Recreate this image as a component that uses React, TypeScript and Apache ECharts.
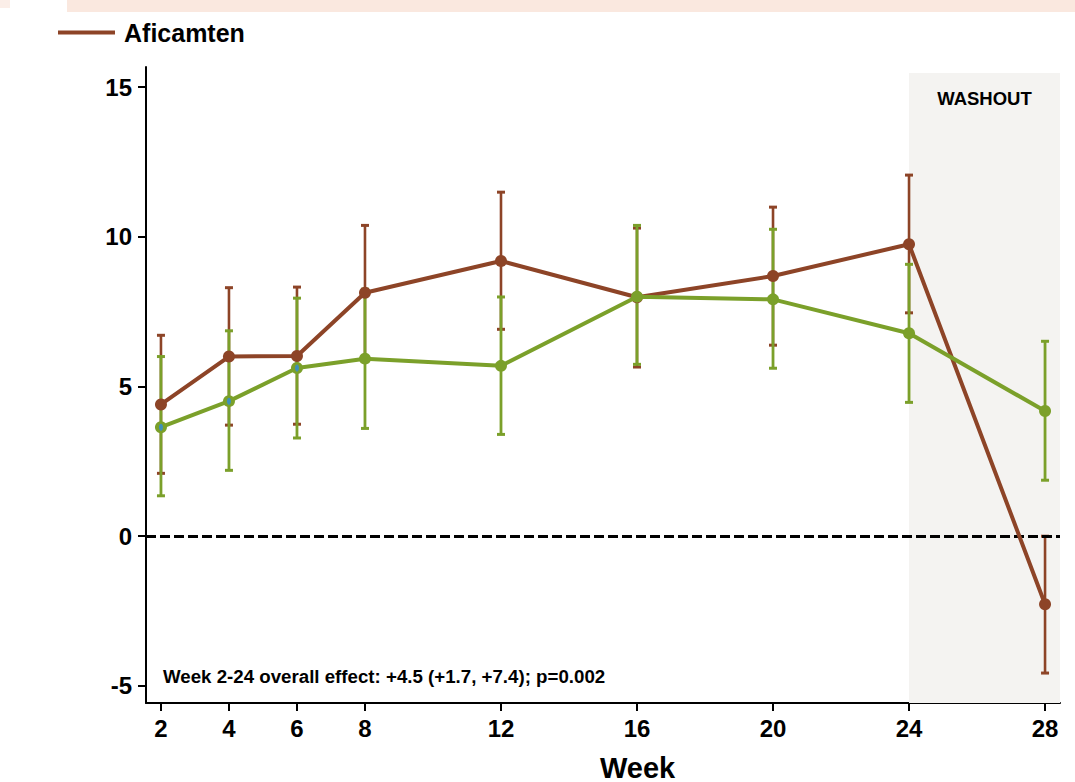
import React, { useEffect, useRef } from "react";
import * as echarts from "echarts";

const weeks = [2, 4, 6, 8, 12, 16, 20, 24, 28];
const xTickLabels = [2, 4, 6, 8, 12, 16, 20, 24, 28];
const yTickLabels = [-5, 0, 5, 10, 15];

const afiMean = [4.4, 6.0, 6.02, 8.13, 9.19, 7.98, 8.69, 9.75, -2.27];
const afiLow = [2.1, 3.71, 3.74, 5.9, 6.91, 5.65, 6.38, 7.46, -4.57];
const afiHigh = [6.71, 8.3, 8.32, 10.38, 11.49, 10.29, 10.99, 12.06, 0.0];

const cmpMean = [3.64, 4.51, 5.62, 5.93, 5.69, 8.0, 7.91, 6.78, 4.18];
const cmpLow = [1.35, 2.2, 3.28, 3.6, 3.4, 5.74, 5.61, 4.47, 1.87];
const cmpHigh = [6.0, 6.86, 7.95, 8.25, 7.99, 10.38, 10.25, 9.08, 6.51];

const blueDotWeeks = [2, 4, 6];

const BROWN = "#8D4427";
const GREEN = "#7BA02A";
const FONT = "Liberation Sans, Arial, sans-serif";

function errorBar(color: string, barW: number) {
  return (params: any, api: any) => {
    const x = api.value(0);
    const lo = api.value(1);
    const hi = api.value(2);
    const top = api.coord([x, hi]);
    const bot = api.coord([x, lo]);
    const hw = 4;
    return {
      type: "group",
      children: [
        { type: "line", shape: { x1: top[0], y1: top[1], x2: bot[0], y2: bot[1] }, style: { stroke: color, lineWidth: barW } },
        { type: "line", shape: { x1: top[0] - hw, y1: top[1], x2: top[0] + hw, y2: top[1] }, style: { stroke: color, lineWidth: 3 } },
        { type: "line", shape: { x1: bot[0] - hw, y1: bot[1], x2: bot[0] + hw, y2: bot[1] }, style: { stroke: color, lineWidth: 3 } },
      ],
    };
  };
}

export default function App() {
  const ref = useRef<HTMLDivElement>(null);
  useEffect(() => {
    if (!ref.current) return;
    const chart = echarts.init(ref.current, null, { renderer: "svg" });
    const xMin = 1.56;
    const xMax = 28.44;
    const yMin = -5.57;
    const yMax = 15.67;
    chart.setOption({
      animation: false,
      backgroundColor: "#ffffff",
      textStyle: { fontFamily: FONT },
      graphic: [
        { type: "rect", shape: { x: 67, y: 0, width: 1008, height: 12 }, style: { fill: "#FAE8DF" }, z: 0 },
        { type: "rect", shape: { x: 0, y: 0, width: 10, height: 8 }, style: { fill: "#FBEEE8" }, z: 0 },
        {
          type: "text",
          left: 163,
          top: 667,
          style: { text: "Week 2-24 overall effect: +4.5 (+1.7, +7.4); p=0.002", font: `bold 18.7px ${FONT}`, fill: "#000" },
          z: 10,
        },
        {
          type: "text",
          left: 600,
          top: 753,
          style: { text: "Week", font: `bold 29px ${FONT}`, fill: "#000" },
          z: 10,
        },
      ],
      legend: {
        data: [{ name: "Aficamten", icon: "rect" }],
        left: 58,
        top: 20,
        padding: 0,
        itemWidth: 57,
        itemHeight: 4,
        textStyle: { fontSize: 25, fontWeight: "bold", color: "#000", fontFamily: FONT, padding: [0, 0, 0, 4] },
      },
      grid: { left: 146, top: 67, width: 914, height: 636, containLabel: false },
      xAxis: {
        type: "value",
        min: xMin,
        max: xMax,
        axisLine: { onZero: false, lineStyle: { color: "#000", width: 2 } },
        axisTick: { show: true, customValues: xTickLabels, length: 8, lineStyle: { color: "#000", width: 2 } },
        axisLabel: { customValues: xTickLabels, fontSize: 24, fontWeight: "bold", color: "#000", margin: 13, fontFamily: FONT },
        splitLine: { show: false },
      },
      yAxis: {
        type: "value",
        min: yMin,
        max: yMax,
        axisLine: { show: true, onZero: false, lineStyle: { color: "#000", width: 2 } },
        axisTick: { show: true, customValues: yTickLabels, length: 8, lineStyle: { color: "#000", width: 2 } },
        axisLabel: { customValues: yTickLabels, fontSize: 24, fontWeight: "bold", color: "#000", margin: 14, fontFamily: FONT },
        splitLine: { show: false },
      },
      series: [
        {
          name: "washout",
          type: "line",
          data: [],
          z: 0,
          silent: true,
          markArea: {
            silent: true,
            itemStyle: { color: "#F4F3F1" },
            label: {
              show: true,
              position: "insideTop",
              distance: 16,
              color: "#000",
              fontSize: 18.5,
              fontWeight: "bold",
              fontFamily: FONT,
            },
            data: [[{ name: "WASHOUT", xAxis: 24, yAxis: yMin }, { xAxis: xMax, yAxis: 15.47 }]],
          },
          markLine: {
            silent: true,
            symbol: "none",
            label: { show: false },
            lineStyle: { color: "#000", width: 3, type: [10, 4] },
            data: [[{ coord: [xMin, 0] }, { coord: [xMax, 0] }]],
          },
        },
        {
          name: "AficamtenCI",
          type: "custom",
          z: 3,
          renderItem: errorBar(BROWN, 2.6),
          encode: { x: 0, y: [1, 2] },
          data: weeks.map((w, i) => [w, afiLow[i], afiHigh[i]]),
        },
        {
          name: "PlaceboCI",
          type: "custom",
          z: 4,
          renderItem: errorBar(GREEN, 2.8),
          encode: { x: 0, y: [1, 2] },
          data: weeks.map((w, i) => [w, cmpLow[i], cmpHigh[i]]),
        },
        {
          name: "Aficamten",
          type: "line",
          z: 5,
          color: BROWN,
          symbol: "circle",
          symbolSize: 12,
          lineStyle: { width: 4, color: BROWN },
          itemStyle: { color: BROWN },
          data: weeks.map((w, i) => [w, afiMean[i]]),
        },
        {
          name: "Placebo",
          type: "line",
          z: 6,
          color: GREEN,
          symbol: "circle",
          symbolSize: 12,
          lineStyle: { width: 4, color: GREEN },
          itemStyle: { color: GREEN },
          data: weeks.map((w, i) => [w, cmpMean[i]]),
        },
        {
          name: "centers",
          type: "scatter",
          z: 7,
          symbol: "circle",
          symbolSize: [4, 7],
          itemStyle: { color: "#2F8CE0" },
          data: blueDotWeeks.map((w) => [w, cmpMean[weeks.indexOf(w)]]),
        },
      ],
    });
    return () => chart.dispose();
  }, []);
  return <div ref={ref} style={{ position: "absolute", left: 0, top: 0, width: 1075, height: 782 }} />;
}
